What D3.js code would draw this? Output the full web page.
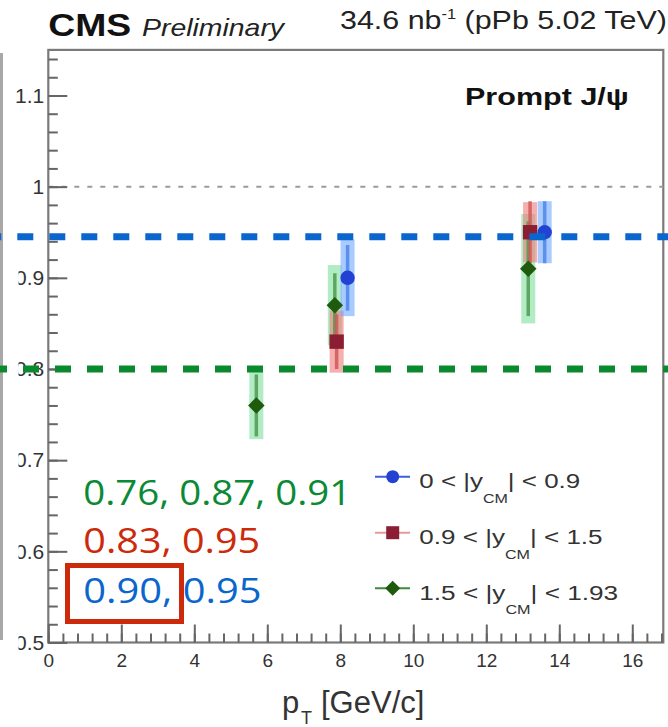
<!DOCTYPE html>
<html>
<head>
<meta charset="utf-8">
<script src="https://cdn.jsdelivr.net/npm/d3@7"></script>
<style>
  html, body { margin: 0; padding: 0; background: #fff; }
  svg { display: block; }
</style>
</head>
<body>
<svg id="chart" width="668" height="727"></svg>
<script>
// Prompt J/psi ratio versus pT in three centre-of-mass rapidity bins, pPb 5.02 TeV

// ---- data ----
const rapidityBins = [[0, 0.9], [0.9, 1.5], [1.5, 1.93]];

const ptBlue = [8.2, 13.6];
const ratioBlue = [0.90, 0.95];
const statBlue = [0.036, 0.034];
const systBlue = [0.042, 0.034];

const ptRed = [7.9, 13.2];
const ratioRed = [0.83, 0.95];
const statRed = [0.030, 0.034];
const systRed = [0.034, 0.033];

const ptGreen = [5.7, 7.85, 13.15];
const ratioGreen = [0.76, 0.87, 0.91];
const statGreen = [0.034, 0.035, 0.052];
const systGreen = [0.037, 0.044, 0.060];

const xTickValues = [0, 2, 4, 6, 8, 10, 12, 14, 16];
const xTickLabels = ["0", "2", "4", "6", "8", "10", "12", "14", "16"];
const yTickValues = [0.5, 0.6, 0.7, 0.8, 0.9, 1.0, 1.1];
const yTickLabels = ["0.5", "0.6", "0.7", "0.8", "0.9", "1", "1.1"];

const unityLevel = [1.0];
const guideLevels = [0.945, 0.80];   // blue and green guide lines

// ---- layout ----
const svg = d3.select("#chart");
const plot = { left: 48.3, right: 663.3, top: 49.9, bottom: 642.5 };
const x = d3.scaleLinear().domain([0, 16.85]).range([plot.left, plot.right]);
const y = d3.scaleLinear().domain([0.5, 1.15]).range([plot.bottom, plot.top]);

const rootFont = "'Liberation Sans', Arial, Helvetica, sans-serif";
const noteFont = "'Open Sans', 'Noto Sans', sans-serif";

// stretch a text element horizontally so its width equals w
function fitWidth(sel, w) {
  const bb = sel.node().getBBox();
  const s = w / bb.width;
  const x0 = bb.x;
  sel.attr("transform", `translate(${x0},0) scale(${s},1) translate(${-x0},0)`);
}

// ---- frame ----
svg.append("rect")
  .attr("x", plot.left).attr("y", plot.top)
  .attr("width", plot.right - plot.left).attr("height", plot.bottom - plot.top)
  .attr("fill", "none").attr("stroke", "#7a7a7a").attr("stroke-width", 2.2);

// unity reference line
svg.selectAll("line.unity").data(unityLevel).join("line")
  .attr("class", "unity")
  .attr("x1", plot.left).attr("x2", plot.right)
  .attr("y1", d => y(d)).attr("y2", d => y(d))
  .attr("stroke", "#9a9a9a").attr("stroke-width", 2).attr("stroke-dasharray", "5,8");

// ---- axes (ticks drawn inward) ----
const xMinor = d3.range(0, 43).map(i => +(i * 0.4).toFixed(2)).filter(v => v <= 16.85);
const yMinor = d3.range(0, 33).map(i => +(0.5 + i * 0.02).toFixed(2)).filter(v => v <= 1.15);

function styleAxis(g) {
  g.select(".domain").remove();
  g.selectAll(".tick line").attr("stroke", "#666").attr("stroke-width", 2);
}

svg.append("g")
  .attr("transform", `translate(0,${plot.bottom})`)
  .call(d3.axisBottom(x).tickValues(xMinor).tickFormat("").tickSize(-9).tickSizeOuter(0))
  .call(styleAxis);

svg.append("g")
  .attr("transform", `translate(0,${plot.bottom})`)
  .call(d3.axisBottom(x).tickValues(xTickValues)
    .tickFormat((d, i) => xTickLabels[i]).tickSize(-18).tickSizeOuter(0).tickPadding(11.5))
  .call(styleAxis)
  .call(g => g.selectAll("text")
    .attr("font-family", rootFont).attr("font-size", 19).attr("fill", "#333"));

svg.append("g")
  .attr("transform", `translate(${plot.left},0)`)
  .call(d3.axisLeft(y).tickValues(yMinor).tickFormat("").tickSize(-9.5).tickSizeOuter(0))
  .call(styleAxis);

svg.append("g")
  .attr("transform", `translate(${plot.left},0)`)
  .call(d3.axisLeft(y).tickValues(yTickValues)
    .tickFormat((d, i) => yTickLabels[i]).tickSize(-19).tickSizeOuter(0).tickPadding(4))
  .call(styleAxis)
  .call(g => g.selectAll("text")
    .attr("font-family", rootFont).attr("font-size", 21).attr("fill", "#333"));

// neighbouring panel edge on the far left
svg.append("rect").attr("x", 0).attr("y", 140).attr("width", 18.5).attr("height", 525).attr("fill", "#fff");
svg.append("line").attr("x1", 1.5).attr("x2", 1.5).attr("y1", 53).attr("y2", 640)
  .attr("stroke", "#a8a8a8").attr("stroke-width", 3);

// ---- series ----
const series = [
  { bin: rapidityBins[0], pt: ptBlue, v: ratioBlue, stat: statBlue, syst: systBlue,
    band: "#6fa8ff", err: "#4f86ea", marker: "#2342d3", legendLine: "#3b5fe0", shape: "circle", note: "#0a66cc" },
  { bin: rapidityBins[1], pt: ptRed, v: ratioRed, stat: statRed, syst: systRed,
    band: "#ef7a7a", err: "#d05a5a", marker: "#8c1e33", legendLine: "#e79a9a", shape: "square", note: "#cc2a0a" },
  { bin: rapidityBins[2], pt: ptGreen, v: ratioGreen, stat: statGreen, syst: systGreen,
    band: "#7fe09e", err: "#4f9a4f", marker: "#1f5a0d", legendLine: "#3d8c3d", shape: "diamond", note: "#0b8a35" }
];

function markerPath(shape, s) {
  if (shape === "circle") return d3.symbol(d3.symbolCircle, Math.PI * s * s)();
  if (shape === "square") return `M${-s},${-s}H${s}V${s}H${-s}Z`;
  const r = s * 1.15;
  return `M0,${-r}L${r},0L0,${r}L${-r},0Z`;
}

const pointsOf = s => s.pt.map((p, i) => ({ pt: p, v: s.v[i], stat: s.stat[i], syst: s.syst[i] }));
const drawOrder = [series[2], series[1], series[0]];

// systematic boxes
drawOrder.forEach(s => {
  svg.append("g").selectAll("rect").data(pointsOf(s)).join("rect")
    .attr("x", d => x(d.pt) - 7).attr("width", 14)
    .attr("y", d => y(d.v + d.syst)).attr("height", d => y(d.v - d.syst) - y(d.v + d.syst))
    .attr("fill", s.band).attr("opacity", 0.6);
});
// statistical bars
drawOrder.forEach(s => {
  svg.append("g").selectAll("line").data(pointsOf(s)).join("line")
    .attr("x1", d => x(d.pt)).attr("x2", d => x(d.pt))
    .attr("y1", d => y(d.v + d.stat)).attr("y2", d => y(d.v - d.stat))
    .attr("stroke", s.err).attr("stroke-width", 3.5).attr("opacity", 0.85);
});
// markers
drawOrder.forEach(s => {
  svg.append("g").selectAll("path").data(pointsOf(s)).join("path")
    .attr("transform", d => `translate(${x(d.pt)},${y(d.v)})`)
    .attr("d", markerPath(s.shape, 7.2))
    .attr("fill", s.marker);
});

// ---- legend ----
const legendRowsY = [476.7, 532.7, 588.3];
series.forEach((s, i) => {
  const g = svg.append("g");
  const cy = legendRowsY[i];
  g.append("line").attr("x1", 375).attr("x2", 410).attr("y1", cy).attr("y2", cy)
    .attr("stroke", s.legendLine).attr("stroke-width", 2);
  g.append("path").attr("transform", `translate(392.7,${cy})`)
    .attr("d", markerPath(s.shape, 6.5)).attr("fill", s.marker);
  const t = g.append("text").attr("x", 419.3).attr("y", cy + 11.6)
    .attr("font-family", rootFont).attr("font-size", 21).attr("fill", "#333");
  t.append("tspan").text(`${s.bin[0]} < |y`);
  t.append("tspan").attr("dy", 14.4).attr("font-size", 13).text("CM");
  t.append("tspan").attr("dy", -14.4).text(`| < ${s.bin[1]}`);
  fitWidth(t, [161, 183.4, 199][i]);
});

// ---- guide lines across the panel ----
const guideColors = ["#0a66cc", "#0a8a2e"];
const guideOffsets = [14.7, 9];
svg.selectAll("line.guide").data(guideLevels).join("line")
  .attr("class", "guide")
  .attr("x1", 0).attr("x2", 668)
  .attr("y1", d => y(d)).attr("y2", d => y(d))
  .attr("stroke", (d, i) => guideColors[i]).attr("stroke-width", 7)
  .attr("stroke-dasharray", "16,16")
  .attr("stroke-dashoffset", (d, i) => guideOffsets[i]);

// ---- value notes ----
const fmt = d3.format(".2f");
const notes = [series[2], series[1], series[0]];
const noteBaselines = [505, 553, 603];
const noteWidths = [268, 177, 178.4];
notes.forEach((s, i) => {
  const t = svg.append("text").attr("x", 83.3).attr("y", noteBaselines[i])
    .attr("font-family", noteFont).attr("font-size", 35).attr("fill", s.note)
    .text(s.v.map(fmt).join(", "));
  fitWidth(t, noteWidths[i]);
});
svg.append("rect").attr("x", 67.5).attr("y", 565.5).attr("width", 114).attr("height", 56)
  .attr("fill", "none").attr("stroke", "#cc2a0a").attr("stroke-width", 5);

// ---- header texts ----
const cms = svg.append("text").attr("x", 48.3).attr("y", 36)
  .attr("font-family", rootFont).attr("font-weight", "bold").attr("font-size", 32)
  .attr("fill", "#111").text("CMS");
fitWidth(cms, 83);

const prelim = svg.append("text").attr("x", 142).attr("y", 36)
  .attr("font-family", rootFont).attr("font-style", "italic").attr("font-size", 23)
  .attr("fill", "#222").text("Preliminary");
fitWidth(prelim, 144);

const lumi = svg.append("text").attr("x", 340).attr("y", 29.3)
  .attr("font-family", rootFont).attr("font-size", 26).attr("fill", "#222");
lumi.append("tspan").text("34.6 nb");
lumi.append("tspan").attr("dy", -10).attr("font-size", 14).text("-1");
lumi.append("tspan").attr("dy", 10).text(" (pPb 5.02 TeV)");
fitWidth(lumi, 327);

const prompt = svg.append("text").attr("x", 465).attr("y", 105)
  .attr("font-family", rootFont).attr("font-weight", "bold").attr("font-size", 23)
  .attr("fill", "#111").text("Prompt J/ψ");
fitWidth(prompt, 164);

// ---- x axis title ----
svg.append("text").attr("x", 282).attr("y", 713)
  .attr("font-family", rootFont).attr("font-size", 31).attr("fill", "#333").text("p");
svg.append("text").attr("x", 301).attr("y", 724)
  .attr("font-family", rootFont).attr("font-size", 18).attr("fill", "#333").text("T");
svg.append("text").attr("x", 321).attr("y", 713)
  .attr("font-family", rootFont).attr("font-size", 31).attr("fill", "#333").text("[GeV/c]");
</script>
</body>
</html>
